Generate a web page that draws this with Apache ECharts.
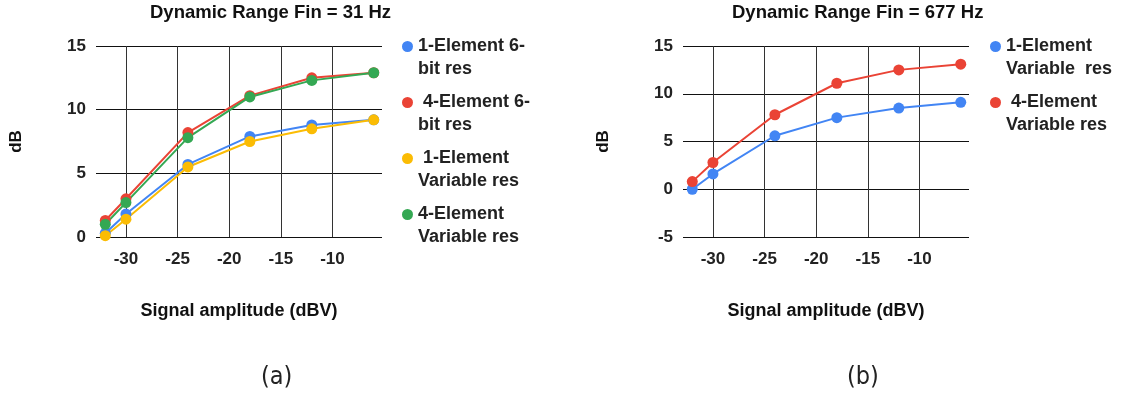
<!DOCTYPE html>
<html>
<head>
<meta charset="utf-8">
<script src="https://cdn.jsdelivr.net/npm/echarts@6/dist/echarts.min.js"></script>
<style>
  html, body { margin: 0; padding: 0; background: #fff; }
  #chart { width: 1132px; height: 400px; }
</style>
</head>
<body>
<div id="chart"></div>
<script>
// Signal amplitude sweep points (dBV)
const amplitudes = [-32, -30, -24, -18, -12, -6];
const xTicks = [-30, -25, -20, -15, -10];

// Panel (a): Fin = 31 Hz
const a_oneElem6bit = [0.3, 1.8, 5.7, 7.9, 8.8, 9.2];
const a_fourElem6bit = [1.3, 3.0, 8.2, 11.1, 12.5, 12.9];
const a_oneElemVar = [0.1, 1.4, 5.5, 7.5, 8.5, 9.2];
const a_fourElemVar = [1.0, 2.7, 7.8, 11.0, 12.3, 12.9];

// Panel (b): Fin = 677 Hz
const b_oneElemVar = [0.0, 1.6, 5.6, 7.5, 8.5, 9.1];
const b_fourElemVar = [0.8, 2.8, 7.8, 11.1, 12.5, 13.1];

const titleA = 'Dynamic Range Fin = 31 Hz';
const titleB = 'Dynamic Range Fin = 677 Hz';
const xName = 'Signal amplitude (dBV)';
const yName = 'dB';

const BLUE = '#4285F4', RED = '#EA4335', YELLOW = '#FBBC04', GREEN = '#34A853';
const FONT = '"Liberation Sans", Arial, sans-serif';

const pairs = (ys) => amplitudes.map((x, i) => [x, ys[i]]);

function xAxisFor(gridIndex) {
  return {
    type: 'value', gridIndex, min: -32.9, max: -5.2,
    name: xName, nameLocation: 'middle', nameGap: 65,
    nameTextStyle: { fontFamily: FONT, fontWeight: 'bold', fontSize: 18, color: '#111' },
    axisLine: { show: false },
    axisTick: { show: false, customValues: xTicks },
    axisLabel: { customValues: xTicks, margin: 14, fontFamily: FONT, fontWeight: 'bold', fontSize: 17, color: '#222' },
    splitLine: { show: true, lineStyle: { color: '#333', width: 1 } }
  };
}
function yAxisFor(gridIndex, min) {
  return {
    type: 'value', gridIndex, min, max: 15, interval: 5,
    name: yName, nameLocation: 'middle', nameGap: 71, nameRotate: 90,
    nameTextStyle: { fontFamily: FONT, fontWeight: 'bold', fontSize: 17, color: '#111' },
    axisLine: { show: false }, axisTick: { show: false },
    axisLabel: { margin: 10, fontFamily: FONT, fontWeight: 'bold', fontSize: 17, color: '#222' },
    splitLine: { show: true, lineStyle: { color: '#111', width: 1 } }
  };
}
function lineSeries(name, data, color, idx) {
  return {
    name, type: 'line', xAxisIndex: idx, yAxisIndex: idx, data: pairs(data),
    symbol: 'circle', symbolSize: 11, showSymbol: true,
    lineStyle: { color, width: 2 }, itemStyle: { color },
    emphasis: { disabled: true }, animation: false
  };
}

// A blank first line keeps the marker level with the first text line
const legendBase = {
  orient: 'vertical', top: 12, padding: 0, icon: 'circle', itemWidth: 11, itemHeight: 11, itemGap: -13,
  selectedMode: false, formatter: (name) => ' \n' + name,
  textStyle: { fontFamily: FONT, fontWeight: 'bold', fontSize: 18, color: '#222', lineHeight: 23 }
};

const chart = echarts.init(document.getElementById('chart'), null, { renderer: 'canvas' });
chart.setOption({
  backgroundColor: '#fff',
  animation: false,
  title: [
    { text: titleA, left: 150, top: 3, padding: 0,
      textStyle: { fontFamily: FONT, fontWeight: 'bold', fontSize: 18.5, color: '#111' } },
    { text: titleB, left: 732, top: 3, padding: 0,
      textStyle: { fontFamily: FONT, fontWeight: 'bold', fontSize: 18.5, color: '#111' } }
  ],
  legend: [
    Object.assign({}, legendBase, { left: 402,
      data: ['1-Element 6-\nbit res', ' 4-Element 6-\nbit res', ' 1-Element\nVariable res', '4-Element\nVariable res'] }),
    Object.assign({}, legendBase, { left: 990,
      data: ['1-Element\nVariable  res', ' 4-Element\nVariable res'] })
  ],
  grid: [
    { left: 96, top: 46, width: 286, height: 191 },
    { left: 683, top: 46, width: 286, height: 191 }
  ],
  xAxis: [xAxisFor(0), xAxisFor(1)],
  yAxis: [yAxisFor(0, 0), yAxisFor(1, -5)],
  series: [
    lineSeries('1-Element 6-\nbit res', a_oneElem6bit, BLUE, 0),
    lineSeries(' 4-Element 6-\nbit res', a_fourElem6bit, RED, 0),
    lineSeries(' 1-Element\nVariable res', a_oneElemVar, YELLOW, 0),
    lineSeries('4-Element\nVariable res', a_fourElemVar, GREEN, 0),
    lineSeries('1-Element\nVariable  res', b_oneElemVar, BLUE, 1),
    lineSeries(' 4-Element\nVariable res', b_fourElemVar, RED, 1)
  ],
  graphic: [
    { type: 'text', left: 261, top: 365,
      style: { text: '(a)', font: '25px "DejaVu Sans Condensed", "DejaVu Sans", sans-serif', fill: '#222' } },
    { type: 'text', left: 847, top: 365,
      style: { text: '(b)', font: '25px "DejaVu Sans Condensed", "DejaVu Sans", sans-serif', fill: '#222' } }
  ]
});
</script>
</body>
</html>
